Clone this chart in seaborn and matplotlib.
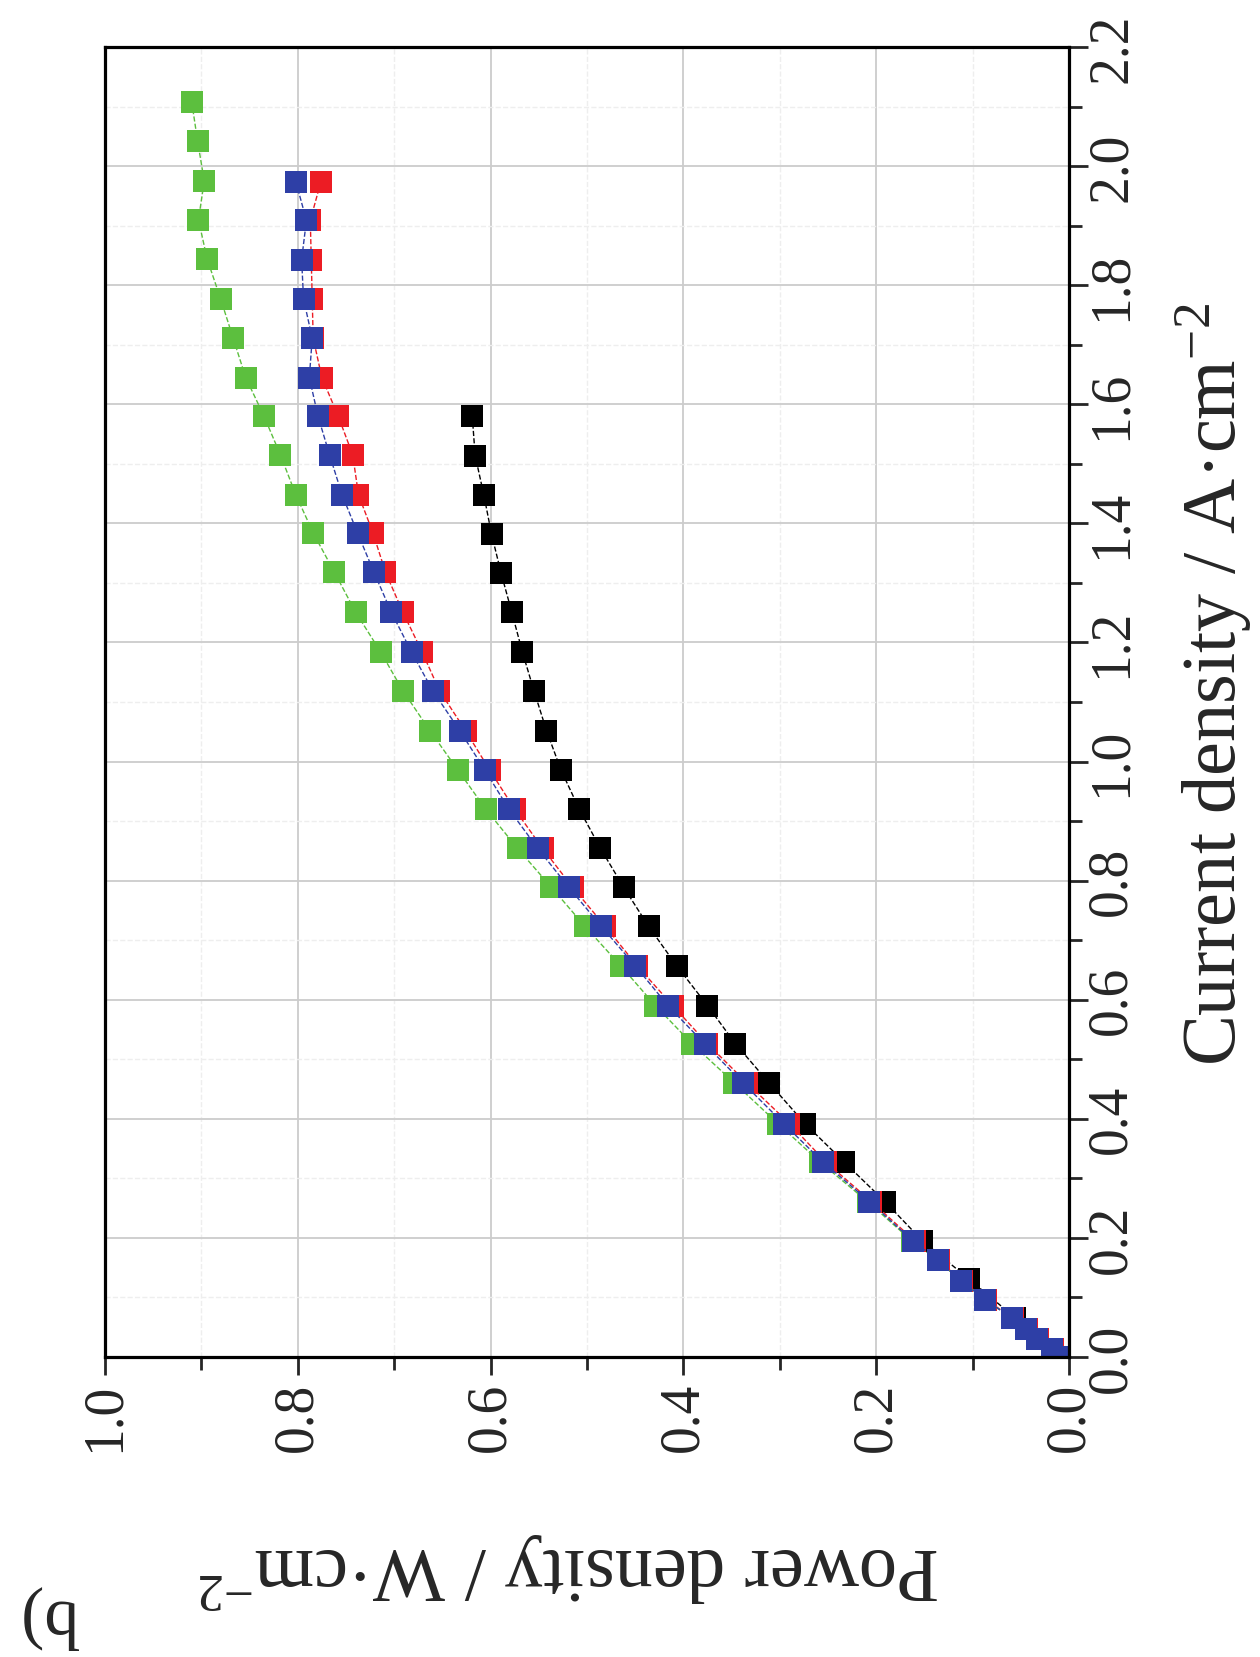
import numpy as np
import pandas as pd
import matplotlib
matplotlib.use("Agg")
import matplotlib.pyplot as plt
import seaborn as sns
from matplotlib.ticker import MultipleLocator

current_black = [1.580, 1.514, 1.448, 1.382, 1.316, 1.251, 1.184, 1.119, 1.052,
                 0.986, 0.920, 0.854, 0.789, 0.723, 0.657, 0.590, 0.526, 0.460,
                 0.392, 0.327, 0.261, 0.195, 0.131, 0.066, 0.0]
power_black = [0.619, 0.616, 0.607, 0.599, 0.589, 0.578, 0.567, 0.555, 0.542,
               0.527, 0.508, 0.486, 0.462, 0.436, 0.407, 0.375, 0.346, 0.311,
               0.274, 0.233, 0.191, 0.152, 0.104, 0.056, 0.0]

current_red = [1.974, 1.909, 1.843, 1.777, 1.711, 1.645, 1.580, 1.515, 1.448,
               1.384, 1.318, 1.251, 1.184, 1.119, 1.052, 0.986, 0.920, 0.854,
               0.789, 0.723, 0.657, 0.590, 0.526, 0.460, 0.392, 0.327, 0.261,
               0.195, 0.162, 0.128, 0.096, 0.065, 0.047, 0.030, 0.013, 0.0]
power_red = [0.776, 0.787, 0.786, 0.785, 0.784, 0.775, 0.758, 0.743, 0.737,
             0.722, 0.709, 0.691, 0.671, 0.653, 0.626, 0.601, 0.575, 0.546,
             0.515, 0.481, 0.448, 0.411, 0.375, 0.334, 0.290, 0.252, 0.205,
             0.160, 0.135, 0.111, 0.086, 0.058, 0.044, 0.032, 0.017, 0.0]

current_green = [2.108, 2.043, 1.975, 1.910, 1.844, 1.777, 1.711, 1.645, 1.580,
                 1.515, 1.448, 1.384, 1.318, 1.251, 1.184, 1.119, 1.052, 0.986,
                 0.920, 0.854, 0.789, 0.723, 0.657, 0.590, 0.526, 0.460, 0.392,
                 0.327, 0.261, 0.195, 0.162, 0.128, 0.096, 0.065, 0.047, 0.030,
                 0.013, 0.0]
power_green = [0.910, 0.904, 0.897, 0.903, 0.894, 0.880, 0.867, 0.854, 0.835,
               0.818, 0.802, 0.784, 0.762, 0.740, 0.714, 0.691, 0.663, 0.634,
               0.605, 0.572, 0.537, 0.502, 0.465, 0.429, 0.391, 0.347, 0.302,
               0.258, 0.209, 0.163, 0.136, 0.112, 0.087, 0.059, 0.045, 0.033,
               0.018, 0.0]

current_blue = [1.974, 1.909, 1.843, 1.777, 1.711, 1.645, 1.580, 1.515, 1.448,
                1.384, 1.318, 1.251, 1.184, 1.119, 1.052, 0.986, 0.920, 0.854,
                0.789, 0.723, 0.657, 0.590, 0.526, 0.460, 0.392, 0.327, 0.261,
                0.195, 0.162, 0.128, 0.096, 0.065, 0.047, 0.030, 0.013, 0.0]
power_blue = [0.802, 0.791, 0.796, 0.794, 0.785, 0.788, 0.779, 0.767, 0.754,
              0.738, 0.721, 0.703, 0.682, 0.660, 0.632, 0.606, 0.581, 0.551,
              0.519, 0.485, 0.450, 0.416, 0.378, 0.338, 0.296, 0.255, 0.207,
              0.162, 0.136, 0.112, 0.087, 0.059, 0.045, 0.033, 0.018, 0.0]

power_ticks = [0.0, 0.2, 0.4, 0.6, 0.8, 1.0]
current_ticks = [0.0, 0.2, 0.4, 0.6, 0.8, 1.0, 1.2, 1.4, 1.6, 1.8, 2.0, 2.2]

series = [
    ("black", current_black, power_black, "#000000"),
    ("red", current_red, power_red, "#ec1c24"),
    ("green", current_green, power_green, "#5cbf3e"),
    ("blue", current_blue, power_blue, "#2e3fa6"),
]

sns.set_style("white")
plt.rcParams["font.family"] = ["Liberation Serif", "DejaVu Serif"]
plt.rcParams["mathtext.fontset"] = "custom"
plt.rcParams["mathtext.rm"] = "Liberation Serif"
plt.rcParams["mathtext.it"] = "Liberation Serif:italic"

fig = plt.figure(figsize=(12.6, 16.58), dpi=100)
ax = fig.add_axes([0.0833, 0.181, 0.7651, 0.790])

for name, cur, pw, col in series:
    df = pd.DataFrame({"power": pw, "current": cur})
    sns.lineplot(data=df, x="power", y="current", ax=ax, sort=False,
                 estimator=None, color=col, marker="s", markersize=15.5,
                 markeredgewidth=0, linestyle="--", linewidth=1.0)

# chart is drawn turned a quarter turn: power runs right-to-left along the bottom
ax.set_xlim(1.0, 0.0)
ax.set_ylim(0.0, 2.2)
ax.yaxis.tick_right()
ax.yaxis.set_label_position("right")
ax.set_xticks(power_ticks)
ax.set_yticks(current_ticks)
ax.set_xticklabels([f"{v:.1f}" for v in power_ticks])
ax.set_yticklabels([f"{v:.1f}" for v in current_ticks])
ax.xaxis.set_minor_locator(MultipleLocator(0.1))
ax.yaxis.set_minor_locator(MultipleLocator(0.1))

ax.tick_params(axis="x", which="major", direction="out", length=13, width=2,
               labelsize=40, labelrotation=90, pad=5, bottom=True, top=False)
ax.tick_params(axis="x", which="minor", direction="out", length=9, width=2,
               bottom=True, top=False)
ax.tick_params(axis="y", which="major", direction="out", length=14, width=2,
               labelsize=40, labelrotation=90, pad=-2, right=True, left=False)
ax.tick_params(axis="y", which="minor", direction="out", length=9, width=2,
               right=True, left=False)
for lab in ax.get_yticklabels():
    lab.set_va("center")

ax.grid(True, which="major", color="#cccccc", linewidth=1.3)
ax.grid(True, which="minor", color="#eeeeee", linewidth=1.0, linestyle="--")
ax.set_axisbelow(True)

for sp in ax.spines.values():
    sp.set_color("black")
    sp.set_linewidth(2.3)

ax.set_xlabel(r"Power density / W·cm$^{-2}$", fontsize=55, rotation=180,
              va="center", ha="center")
ax.xaxis.set_label_coords(0.481, -0.162)
ax.set_ylabel(r"Current density / A·cm$^{-2}$", fontsize=55, rotation=90,
              va="center", ha="center")
ax.yaxis.set_label_coords(1.15, 0.514)

fig.text(0.040, 0.024, "b)", fontsize=50, rotation=180, ha="center", va="center")

fig.savefig("out.png", dpi=100)
